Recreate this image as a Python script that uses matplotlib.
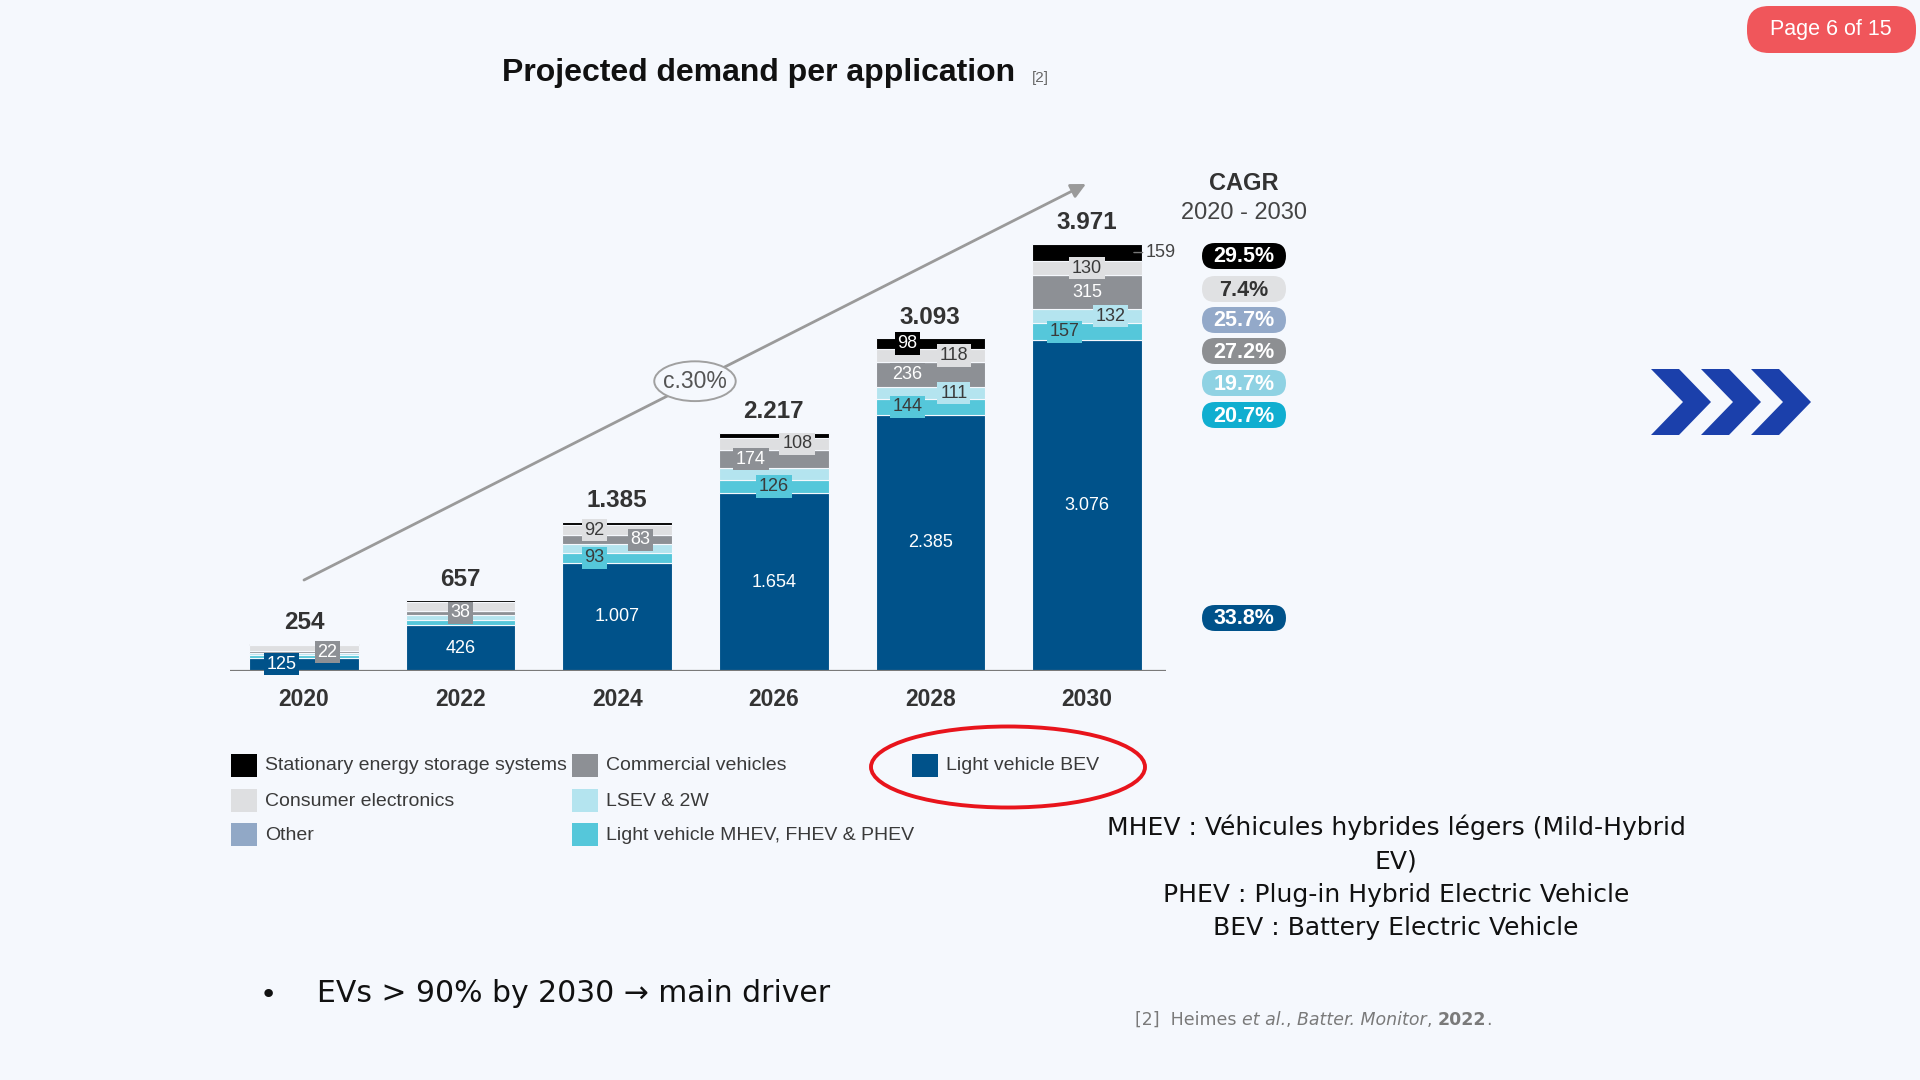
import matplotlib
matplotlib.use("Agg")
import matplotlib.pyplot as plt
from matplotlib.patches import Rectangle, FancyBboxPatch, Ellipse, Polygon
import numpy as np

# ---------------- data ----------------
years = ["2020", "2022", "2024", "2026", "2028", "2030"]
totals = [254, 657, 1385, 2217, 3093, 3971]
bev = [125, 426, 1007, 1654, 2385, 3076]
mhev = [20, 52, 93, 126, 144, 157]
lsev = [19, 45, 79, 104, 111, 132]
commercial = [22, 38, 83, 174, 236, 315]
other = [0, 0, 1, 1, 1, 2]
consumer = [58, 81, 92, 108, 118, 130]
stationary = [10, 15, 30, 50, 98, 159]

series_names = ["Light vehicle BEV", "Light vehicle MHEV, FHEV & PHEV", "LSEV & 2W",
                "Commercial vehicles", "Other", "Consumer electronics",
                "Stationary energy storage systems"]
series_vals = [bev, mhev, lsev, commercial, other, consumer, stationary]
series_cols = ["#00528a", "#55c7da", "#b4e4ef", "#8d9095", "#91a8c6", "#dedfe1", "#000000"]
label_txt_cols = ["white", "#3a3a3a", "#3a3a3a", "white", "white", "#3a3a3a", "white"]

cagr_labels = ["29.5%", "7.4%", "25.7%", "27.2%", "19.7%", "20.7%", "33.8%"]
cagr_cols = ["#000000", "#e0e1e3", "#93a9c9", "#8d8f92", "#8fd2e3", "#10aed0", "#00528a"]
cagr_txt = ["white", "#333333", "white", "white", "white", "white", "white"]

# value labels shown on bars: (year index, series index, horizontal placement)
value_labels = [
    (0, 0, "L"), (0, 3, "R"),
    (1, 0, "C"), (1, 3, "C"),
    (2, 5, "L"), (2, 3, "R"), (2, 1, "L"), (2, 0, "C"),
    (3, 5, "R"), (3, 3, "L"), (3, 1, "C"), (3, 0, "C"),
    (4, 6, "L"), (4, 5, "R"), (4, 3, "L"), (4, 2, "R"), (4, 1, "L"), (4, 0, "C"),
    (5, 6, "OUT"), (5, 5, "C"), (5, 3, "C"), (5, 2, "R"), (5, 1, "L"), (5, 0, "C"),
]

legend_order = [6, 5, 4, 3, 2, 1, 0]

BG = "#f5f8fd"
NARROW = ["Liberation Sans", "DejaVu Sans"]
SANS = ["Liberation Sans", "DejaVu Sans"]
TEXTF = ["DejaVu Sans"]


def fmt(v):
    return f"{v:,}".replace(",", ".")


fig = plt.figure(figsize=(19.2, 10.8), dpi=100, facecolor=BG)

# overlay axes in pixel coordinates
ov = fig.add_axes([0, 0, 1, 1], zorder=0)
ov.set_xlim(0, 1920)
ov.set_ylim(1080, 0)
ov.axis("off")
ov.patch.set_alpha(0)

# chart axes
base_px = 671
px_per_unit = 427 / 3971
ymax = 4600
ax = fig.add_axes([230 / 1920, 1 - base_px / 1080, 936 / 1920, ymax * px_per_unit / 1080], zorder=1)
ax.set_facecolor("none")
x = np.arange(len(years))
bw = 0.70
bottom = np.zeros(len(years))
bottoms = []
for vals, col in zip(series_vals, series_cols):
    bottoms.append(bottom.copy())
    ax.bar(x, vals, bw, bottom=bottom, color=col, edgecolor=BG, linewidth=0.8)
    bottom = bottom + np.array(vals)

ax.set_xlim(-0.4725, 5.505)
ax.set_ylim(0, ymax)
for s in ax.spines.values():
    s.set_visible(False)
ax.axhline(0, color="#7a7a7a", lw=1.6, zorder=5)
ax.set_yticks([])
ax.set_xticks(x)
ax.set_xticklabels(years, fontsize=16.5, fontweight="bold", color="#333333", family=NARROW)
ax.tick_params(axis="x", length=0, pad=12)

# totals
for i, t in enumerate(totals):
    ax.annotate(fmt(t), (x[i], t), xytext=(0, 7), textcoords="offset points",
                ha="center", va="bottom", fontsize=17.5, fontweight="bold",
                color="#333333", family=NARROW)

# value labels
offs = {"L": -0.145, "R": 0.15, "C": 0.0}
for (i, si, pos) in value_labels:
    v = series_vals[si][i]
    ymid = bottoms[si][i] + v / 2
    if pos == "OUT":
        ax.annotate(fmt(v), (x[i] + 0.30, ymid), xytext=(x[i] + 0.47, ymid),
                    ha="center", va="center", fontsize=13, color="#444444",
                    family=NARROW, annotation_clip=False,
                    arrowprops=dict(arrowstyle="-", color="#777777", lw=1, shrinkA=8, shrinkB=0))
        continue
    ax.text(x[i] + offs[pos], ymid, fmt(v), ha="center", va="center",
            fontsize=13, color=label_txt_cols[si], family=NARROW, zorder=6,
            bbox=dict(boxstyle="square,pad=0.15", fc=series_cols[si], ec="none"))

# growth arrow
ax.annotate("", xy=(4.994, 4529), xytext=(0, 846),
            arrowprops=dict(arrowstyle="-|>", color="#9a9a9a", lw=2, mutation_scale=22, shrinkA=0, shrinkB=0),
            annotation_clip=False)
ax.add_patch(Ellipse((2.497, 2695), 0.52, 370, facecolor=BG, edgecolor="#a0a0a0", lw=1.4, zorder=4))
ax.text(2.497, 2695, "c.30%", ha="center", va="center", fontsize=16.5, color="#555555",
        family=NARROW, zorder=5)

# title
ov.text(502, 73, "Projected demand per application", ha="left", va="center",
        fontsize=23, fontweight="bold", color="#111111", family=SANS)
ov.text(1032, 78, "[2]", ha="left", va="center", fontsize=11, color="#666666", family=SANS)

# CAGR header and badges
ov.text(1244, 184, "CAGR", ha="center", va="center", fontsize=17, fontweight="bold",
        color="#333333", family=NARROW)
ov.text(1244, 213, "2020 - 2030", ha="center", va="center", fontsize=17,
        color="#444444", family=NARROW)
badge_y = [256, 289, 320, 351, 383, 415, 618]
for lab, col, tc, by in zip(cagr_labels, cagr_cols, cagr_txt, badge_y):
    ov.add_patch(FancyBboxPatch((1244 - 42, by - 13), 84, 26,
                                boxstyle="round,pad=0,rounding_size=13",
                                fc=col, ec="none"))
    ov.text(1244, by + 1, lab, ha="center", va="center", fontsize=15.5, fontweight="bold",
            color=tc, family=NARROW)

# legend
leg_cols_x = [231, 572, 912]
leg_rows_y = [765, 800, 834]
for k, si in enumerate(legend_order):
    cx = leg_cols_x[k // 3]
    cy = leg_rows_y[k % 3]
    ov.add_patch(Rectangle((cx, cy - 11), 26, 23, fc=series_cols[si], ec="none"))
    ov.text(cx + 34, cy + 1, series_names[si], ha="left", va="center", fontsize=14,
            color="#3a3a3a", family=NARROW)

# red highlight ellipse
ov.add_patch(Ellipse((1008, 767), 274, 81, facecolor="none", edgecolor="#e8141c", lw=2.8))

# definitions text
defs = ["MHEV : Véhicules hybrides légers (Mild-Hybrid", "EV)",
        "PHEV : Plug-in Hybrid Electric Vehicle", "BEV : Battery Electric Vehicle"]
for t, yy in zip(defs, [827, 861, 895, 928]):
    ov.text(1396, yy, t, ha="center", va="center", fontsize=18, color="#111111", family=TEXTF)

# bullet
ov.text(268, 995, "•", ha="center", va="center", fontsize=21, color="#111111", family=TEXTF)
ov.text(317, 993, "EVs > 90% by 2030 → main driver", ha="left", va="center", fontsize=21.5,
        color="#111111", family=TEXTF)

# citation
cx0 = 1135
parts = [("[2]  Heimes ", "normal", "normal"), ("et al.", "italic", "normal"), (", ", "normal", "normal"),
         ("Batter. Monitor", "italic", "normal"), (", ", "normal", "normal"), ("2022", "normal", "bold"),
         (".", "normal", "normal")]
fig.canvas.draw()
r = fig.canvas.get_renderer()
xx = cx0
for txt, style, weight in parts:
    tt = ov.text(xx, 1020, txt, ha="left", va="center", fontsize=12.5, style=style,
                 fontweight=weight, color="#7a7a7a", family=TEXTF)
    bb = tt.get_window_extent(renderer=r)
    xx += bb.width

# chevrons
H, T, D = 66, 28, 32
for k in range(3):
    x0 = 1651 + 50 * k
    top, bot = 369, 369 + H
    mid = (top + bot) / 2
    ov.add_patch(Polygon([(x0, top), (x0 + T, top), (x0 + T + D, mid), (x0 + T, bot),
                          (x0, bot), (x0 + D, mid)], closed=True, fc="#1b40ab", ec="none"))

# page badge
ov.add_patch(FancyBboxPatch((1747, 6), 169, 47, boxstyle="round,pad=0,rounding_size=22",
                            fc="#f0565b", ec="none"))
ov.text(1831, 29, "Page 6 of 15", ha="center", va="center", fontsize=15.5, color="white",
        family=SANS)

fig.savefig("out.png", dpi=100, facecolor=BG)
